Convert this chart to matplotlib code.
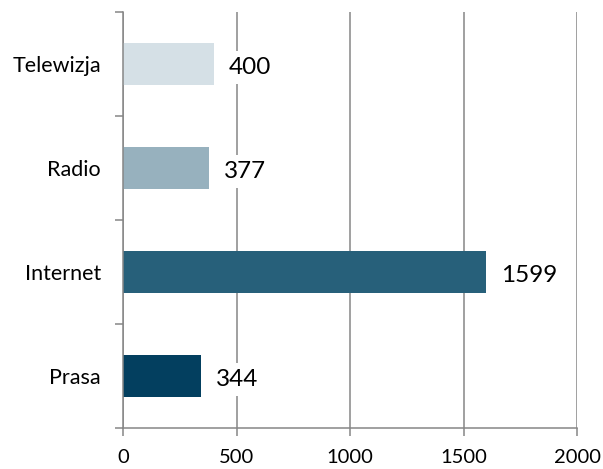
import matplotlib
matplotlib.use("Agg")
import matplotlib.pyplot as plt

categories = ["Prasa", "Internet", "Radio", "Telewizja"]
values = [344, 1599, 377, 400]
colors = ["#033F5F", "#27607A", "#97B1BE", "#D5E0E6"]
xticks = [0, 500, 1000, 1500, 2000]

plt.rcParams["font.family"] = ["Lato", "DejaVu Sans"]
grey = "#868686"

fig = plt.figure(figsize=(6.03, 4.69), dpi=100)
ax = fig.add_axes([0.204, 0.0874, 0.753, 0.887])

pos = list(range(len(categories)))
ax.barh(pos, values, height=0.4, color=colors, zorder=2)

ax.set_xlim(0, 2000)
ax.set_ylim(-0.5, len(categories) - 0.5)
ax.set_xticks(xticks)
ax.set_xticklabels([str(t) for t in xticks], fontsize=14.5)
ax.set_yticks(pos)
ax.set_yticklabels(categories, fontsize=15.5)
ax.tick_params(axis="y", length=0, pad=16)
ax.tick_params(axis="x", length=6, width=1.1, color=grey, pad=9)
# category boundary ticks on left axis
ax.set_yticks([p - 0.5 for p in pos] + [len(categories) - 0.5], minor=True)
ax.tick_params(axis="y", which="minor", length=6, width=1.1, color=grey)

ax.grid(axis="x", color=grey, linewidth=1.1, zorder=0)
for s in ["top", "right"]:
    ax.spines[s].set_visible(False)
for s in ["left", "bottom"]:
    ax.spines[s].set_color(grey)
    ax.spines[s].set_linewidth(1.1)
    ax.spines[s].set_zorder(3)

for p, v in zip(pos, values):
    ax.annotate(str(v), (v, p - 0.03), xytext=(11, 0), textcoords="offset points",
                va="center", ha="left", fontsize=17.5, zorder=4,
                bbox=dict(boxstyle="square,pad=0.25", fc="white", ec="none"))

fig.savefig("out.png", dpi=100)
